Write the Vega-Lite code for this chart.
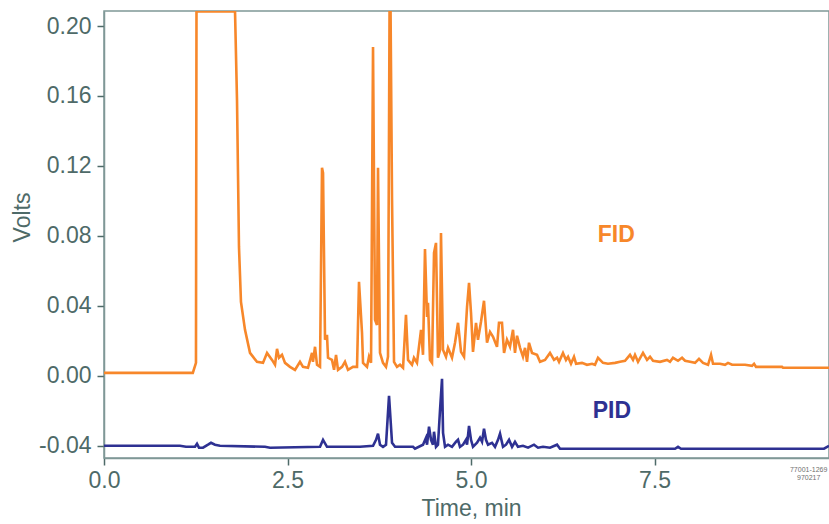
{
  "$schema": "https://vega.github.io/schema/vega-lite/v6.json",
  "width": 725,
  "height": 447,
  "autosize": {"type": "none"},
  "padding": {"left": 104, "top": 11, "right": 0, "bottom": 66},
  "background": "white",
  "config": {
    "view": {"stroke": "#7f9896", "strokeWidth": 1.5},
    "font": "Liberation Sans"
  },
  "datasets": {
    "fid": [
      {"t":0,"v":0.0017},{"t":1.21,"v":0.0017},{"t":1.253,"v":0.0074},{"t":1.26,"v":0.2084},{"t":1.785,"v":0.2084},{"t":1.812,"v":0.1577},{"t":1.839,"v":0.0737},{"t":1.866,"v":0.0423},{"t":1.921,"v":0.0263},{"t":1.989,"v":0.0131},{"t":2.084,"v":0.008},{"t":2.166,"v":0.0074},{"t":2.221,"v":0.0131},{"t":2.289,"v":0.0091},{"t":2.33,"v":0.0063},{"t":2.357,"v":0.0154},{"t":2.384,"v":0.0103},{"t":2.425,"v":0.012},{"t":2.466,"v":0.0074},{"t":2.534,"v":0.0051},{"t":2.602,"v":0.0034},{"t":2.67,"v":0.008},{"t":2.711,"v":0.0051},{"t":2.779,"v":0.0046},{"t":2.834,"v":0.0131},{"t":2.847,"v":0.008},{"t":2.875,"v":0.0166},{"t":2.902,"v":0.0063},{"t":2.943,"v":0.0051},{"t":2.97,"v":0.1189},{"t":2.984,"v":0.116},{"t":3.011,"v":0.0206},{"t":3.038,"v":0.0234},{"t":3.052,"v":0.0103},{"t":3.106,"v":0.0091},{"t":3.134,"v":0.0034},{"t":3.161,"v":0.012},{"t":3.188,"v":0.0034},{"t":3.243,"v":0.0051},{"t":3.283,"v":0.008},{"t":3.324,"v":0.0034},{"t":3.392,"v":0.0051},{"t":3.447,"v":0.0051},{"t":3.474,"v":0.0537},{"t":3.515,"v":0.0246},{"t":3.529,"v":0.0074},{"t":3.583,"v":0.0051},{"t":3.61,"v":0.0109},{"t":3.638,"v":0.0074},{"t":3.665,"v":0.188},{"t":3.692,"v":0.032},{"t":3.719,"v":0.0291},{"t":3.733,"v":0.1189},{"t":3.76,"v":0.0131},{"t":3.801,"v":0.0074},{"t":3.842,"v":0.0051},{"t":3.869,"v":0.0109},{"t":3.89,"v":0.2084},{"t":3.904,"v":0.2084},{"t":3.924,"v":0.1006},{"t":3.951,"v":0.008},{"t":3.992,"v":0.0051},{"t":4.033,"v":0.0063},{"t":4.074,"v":0.0046},{"t":4.114,"v":0.0349},{"t":4.142,"v":0.0091},{"t":4.196,"v":0.0063},{"t":4.223,"v":0.0103},{"t":4.264,"v":0.0074},{"t":4.319,"v":0.0263},{"t":4.346,"v":0.012},{"t":4.373,"v":0.0725},{"t":4.401,"v":0.0337},{"t":4.414,"v":0.0417},{"t":4.441,"v":0.0091},{"t":4.469,"v":0.0074},{"t":4.496,"v":0.0703},{"t":4.523,"v":0.076},{"t":4.55,"v":0.0103},{"t":4.578,"v":0.0149},{"t":4.591,"v":0.0817},{"t":4.618,"v":0.0149},{"t":4.659,"v":0.0109},{"t":4.687,"v":0.016},{"t":4.741,"v":0.0103},{"t":4.782,"v":0.0189},{"t":4.823,"v":0.0303},{"t":4.864,"v":0.0137},{"t":4.905,"v":0.0109},{"t":4.946,"v":0.0394},{"t":4.973,"v":0.0531},{"t":5.0,"v":0.036},{"t":5.027,"v":0.0137},{"t":5.068,"v":0.0303},{"t":5.095,"v":0.0206},{"t":5.136,"v":0.0309},{"t":5.177,"v":0.0429},{"t":5.218,"v":0.0189},{"t":5.259,"v":0.0251},{"t":5.3,"v":0.0223},{"t":5.354,"v":0.0166},{"t":5.381,"v":0.0303},{"t":5.422,"v":0.0303},{"t":5.45,"v":0.0131},{"t":5.49,"v":0.0206},{"t":5.531,"v":0.0166},{"t":5.572,"v":0.0263},{"t":5.599,"v":0.0131},{"t":5.627,"v":0.0229},{"t":5.668,"v":0.016},{"t":5.708,"v":0.0109},{"t":5.736,"v":0.016},{"t":5.763,"v":0.008},{"t":5.79,"v":0.0189},{"t":5.831,"v":0.0131},{"t":5.899,"v":0.012},{"t":5.94,"v":0.008},{"t":6.008,"v":0.0091},{"t":6.076,"v":0.0131},{"t":6.131,"v":0.0091},{"t":6.172,"v":0.0103},{"t":6.199,"v":0.008},{"t":6.253,"v":0.0131},{"t":6.294,"v":0.0091},{"t":6.322,"v":0.0109},{"t":6.362,"v":0.0069},{"t":6.403,"v":0.0109},{"t":6.431,"v":0.0069},{"t":6.512,"v":0.0074},{"t":6.58,"v":0.0063},{"t":6.649,"v":0.0069},{"t":6.689,"v":0.0063},{"t":6.73,"v":0.0103},{"t":6.798,"v":0.0074},{"t":6.866,"v":0.0069},{"t":6.962,"v":0.0074},{"t":7.03,"v":0.008},{"t":7.098,"v":0.0086},{"t":7.166,"v":0.012},{"t":7.207,"v":0.0091},{"t":7.234,"v":0.012},{"t":7.275,"v":0.008},{"t":7.343,"v":0.0131},{"t":7.398,"v":0.0091},{"t":7.439,"v":0.0109},{"t":7.48,"v":0.0086},{"t":7.575,"v":0.008},{"t":7.67,"v":0.0091},{"t":7.711,"v":0.008},{"t":7.752,"v":0.0103},{"t":7.82,"v":0.0086},{"t":7.875,"v":0.0103},{"t":7.916,"v":0.0086},{"t":7.984,"v":0.008},{"t":8.052,"v":0.0074},{"t":8.106,"v":0.0097},{"t":8.161,"v":0.0074},{"t":8.229,"v":0.0063},{"t":8.27,"v":0.012},{"t":8.297,"v":0.0069},{"t":8.392,"v":0.0069},{"t":8.46,"v":0.0063},{"t":8.501,"v":0.0074},{"t":8.556,"v":0.0063},{"t":8.733,"v":0.0063},{"t":8.828,"v":0.0057},{"t":8.856,"v":0.0069},{"t":8.883,"v":0.0051},{"t":9.237,"v":0.0051},{"t":9.251,"v":0.0046},{"t":9.877,"v":0.0046}
    ],
    "pid": [
      {"t":0,"v":-0.04},{"t":1.035,"v":-0.04},{"t":1.117,"v":-0.0406},{"t":1.24,"v":-0.0406},{"t":1.267,"v":-0.0389},{"t":1.294,"v":-0.0411},{"t":1.349,"v":-0.0411},{"t":1.417,"v":-0.0394},{"t":1.458,"v":-0.0383},{"t":1.512,"v":-0.0394},{"t":1.58,"v":-0.04},{"t":2.193,"v":-0.0406},{"t":2.262,"v":-0.0411},{"t":2.943,"v":-0.0406},{"t":2.984,"v":-0.0366},{"t":3.038,"v":-0.0406},{"t":3.488,"v":-0.0406},{"t":3.665,"v":-0.04},{"t":3.706,"v":-0.0366},{"t":3.733,"v":-0.0331},{"t":3.76,"v":-0.0394},{"t":3.801,"v":-0.0406},{"t":3.842,"v":-0.0394},{"t":3.883,"v":-0.0114},{"t":3.924,"v":-0.0383},{"t":3.965,"v":-0.0406},{"t":4.21,"v":-0.0406},{"t":4.237,"v":-0.0417},{"t":4.346,"v":-0.0394},{"t":4.387,"v":-0.0354},{"t":4.401,"v":-0.0394},{"t":4.428,"v":-0.0291},{"t":4.455,"v":-0.0366},{"t":4.482,"v":-0.0394},{"t":4.496,"v":-0.032},{"t":4.523,"v":-0.0406},{"t":4.55,"v":-0.0394},{"t":4.578,"v":-0.0194},{"t":4.605,"v":-0.0017},{"t":4.619,"v":-0.0326},{"t":4.646,"v":-0.0406},{"t":4.687,"v":-0.0394},{"t":4.741,"v":-0.0406},{"t":4.796,"v":-0.0377},{"t":4.823,"v":-0.0366},{"t":4.85,"v":-0.0406},{"t":4.891,"v":-0.0394},{"t":4.932,"v":-0.0366},{"t":4.946,"v":-0.0394},{"t":4.973,"v":-0.0286},{"t":5.0,"v":-0.0366},{"t":5.027,"v":-0.0406},{"t":5.082,"v":-0.0383},{"t":5.123,"v":-0.0354},{"t":5.15,"v":-0.0377},{"t":5.177,"v":-0.0303},{"t":5.204,"v":-0.0366},{"t":5.232,"v":-0.0394},{"t":5.286,"v":-0.0383},{"t":5.327,"v":-0.0406},{"t":5.368,"v":-0.0366},{"t":5.395,"v":-0.0331},{"t":5.436,"v":-0.0406},{"t":5.477,"v":-0.0394},{"t":5.518,"v":-0.0366},{"t":5.559,"v":-0.0406},{"t":5.599,"v":-0.0377},{"t":5.64,"v":-0.0406},{"t":5.708,"v":-0.04},{"t":5.777,"v":-0.0411},{"t":5.858,"v":-0.0394},{"t":5.913,"v":-0.0411},{"t":5.981,"v":-0.0406},{"t":6.076,"v":-0.0411},{"t":6.172,"v":-0.0394},{"t":6.213,"v":-0.0417},{"t":7.779,"v":-0.0417},{"t":7.82,"v":-0.0406},{"t":7.861,"v":-0.0417},{"t":9.809,"v":-0.0417},{"t":9.877,"v":-0.04}
    ],
    "labels": [
      {"t":6.98,"v":0.0806,"label":"FID","series":"FID"},
      {"t":6.92,"v":-0.0200,"label":"PID","series":"PID"}
    ],
    "notes": [
      {"t":9.6,"v":-0.0537,"label":"77001-1269"},
      {"t":9.6,"v":-0.0583,"label":"970217"}
    ]
  },
  "layer": [
    {
      "data": {"name": "fid"},
      "mark": {"type": "line", "color": "#F7872A", "strokeWidth": 2.6, "clip": true},
      "encoding": {
        "x": {"field": "t", "type": "quantitative", "scale": {"domain": [0, 9.877], "nice": false, "zero": false},
          "axis": {"values": [0, 2.5, 5, 7.5], "format": ".1f", "title": "Time, min", "grid": false, "labelFlush": false,
            "domainColor": "#7f9896", "domainWidth": 1.5, "tickColor": "#4e6a68", "tickSize": 7, "tickWidth": 1.5,
            "labelColor": "#4e6a68", "labelFontSize": 23, "labelPadding": 4, "labelFont": "Liberation Sans",
            "titleColor": "#4e6a68", "titleFontSize": 23, "titleFontWeight": "normal", "titleFont": "Liberation Sans",
            "titleX": 367, "titleY": 50, "titleBaseline": "middle", "titleAlign": "center"}},
        "y": {"field": "v", "type": "quantitative", "scale": {"domain": [-0.047, 0.2086], "nice": false, "zero": false},
          "axis": {"values": [-0.04, 0, 0.04, 0.08, 0.12, 0.16, 0.2],
            "labelExpr": "datum.value < 0 ? '-' + format(-datum.value, '.2f') : format(datum.value, '.2f')",
            "title": "Volts", "grid": false, "labelFlush": false,
            "domainColor": "#7f9896", "domainWidth": 1.5, "tickColor": "#4e6a68", "tickSize": 7, "tickWidth": 1.5,
            "labelColor": "#4e6a68", "labelFontSize": 23, "labelPadding": 6, "labelFont": "Liberation Sans",
            "titleColor": "#4e6a68", "titleFontSize": 23, "titleFontWeight": "normal", "titleFont": "Liberation Sans",
            "titleX": -82, "titleY": 206, "titleBaseline": "middle", "titleAlign": "center", "titleAngle": -90}}
      }
    },
    {
      "data": {"name": "pid"},
      "mark": {"type": "line", "color": "#2E3192", "strokeWidth": 2.6, "clip": true},
      "encoding": {
        "x": {"field": "t", "type": "quantitative"},
        "y": {"field": "v", "type": "quantitative"}
      }
    },
    {
      "data": {"name": "labels"},
      "mark": {"type": "text", "fontSize": 23, "fontWeight": "bold", "font": "Liberation Sans", "align": "center", "baseline": "middle"},
      "encoding": {
        "x": {"field": "t", "type": "quantitative"},
        "y": {"field": "v", "type": "quantitative"},
        "text": {"field": "label"},
        "color": {"field": "series", "type": "nominal", "scale": {"domain": ["FID", "PID"], "range": ["#F7872A", "#2E3192"]}, "legend": null}
      }
    },
    {
      "data": {"name": "notes"},
      "mark": {"type": "text", "fontSize": 7, "font": "Liberation Sans", "align": "center", "baseline": "middle", "color": "#6f6f6f", "clip": false},
      "encoding": {
        "x": {"field": "t", "type": "quantitative"},
        "y": {"field": "v", "type": "quantitative"},
        "text": {"field": "label"}
      }
    }
  ]
}
